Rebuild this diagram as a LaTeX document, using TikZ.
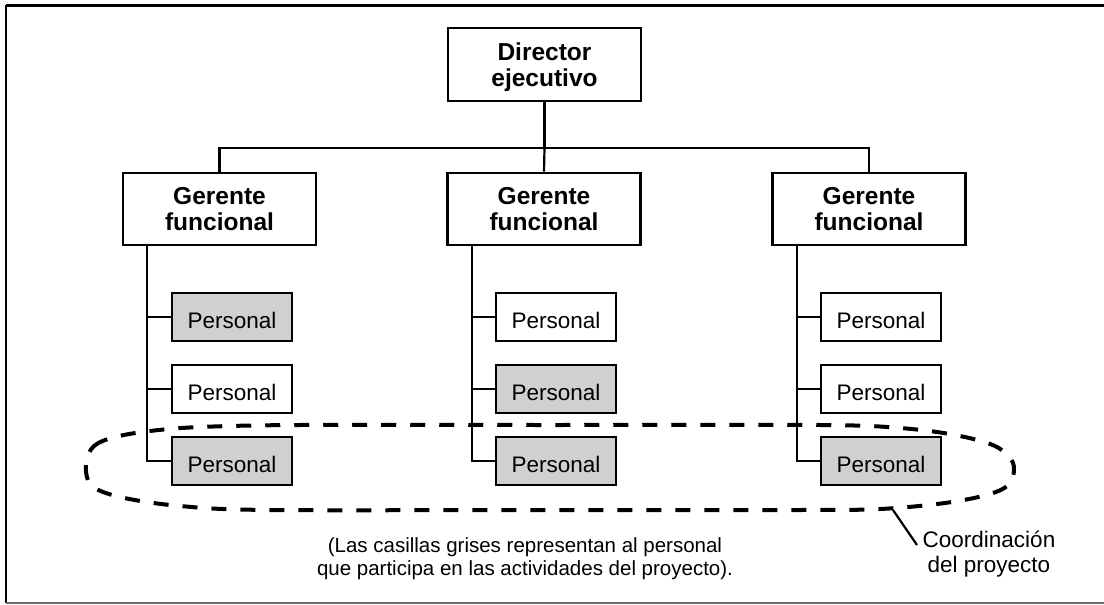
\documentclass[tikz,border=0pt]{standalone}
\usepackage{fontspec}
\setmainfont{Liberation Sans}
\definecolor{boxgray}{RGB}{208,208,208}
\definecolor{framegray}{RGB}{110,110,110}
\begin{document}
\begin{tikzpicture}[x=1pt,y=-1pt,
  box/.style={draw, line width=2.8pt, inner sep=0pt, align=center},
  mgr/.style={box, minimum width=193pt, minimum height=72pt, text depth=0pt,
    font=\fontsize{24.5}{26}\selectfont\bfseries},
  staff/.style={box, minimum width=120pt, minimum height=48pt, text height=22pt, text depth=0pt,
    font=\fontsize{22.5}{24}\selectfont},
  shaded/.style={fill=boxgray},
  link/.style={line width=2.2pt},
  coordline/.style={line width=4pt, dash pattern=on 15pt off 14pt}]
\useasboundingbox (0,0) rectangle (1104,605);
% frame
\draw[line width=3pt] (6,5) -- (1104,5);
\draw[line width=2pt] (6,5) -- (6,603);
\draw[line width=1.5pt, framegray] (6,603) -- (1104,603);

% nodes
\node[mgr, minimum height=73pt] (dir) at (544.5,64.5) {Director\\ejecutivo};
\node[mgr] (g1) at (219.5,209) {Gerente\\funcional};
\node[mgr] (g2) at (544,209) {Gerente\\funcional};
\node[mgr] (g3) at (869,209) {Gerente\\funcional};

\node[staff, shaded] (p11) at (232,317) {Personal};
\node[staff]         (p12) at (232,389) {Personal};
\node[staff, shaded] (p13) at (232,461) {Personal};
\node[staff]         (p21) at (556,317) {Personal};
\node[staff, shaded] (p22) at (556,389) {Personal};
\node[staff, shaded] (p23) at (556,461) {Personal};
\node[staff]         (p31) at (881,317) {Personal};
\node[staff]         (p32) at (881,389) {Personal};
\node[staff, shaded] (p33) at (881,461) {Personal};

% connectors
\coordinate (bus) at (544.5,148);
\draw[link] (dir.south) -- (bus);
\draw[link] (g1.north) |- (bus) -| (g3.north);
\draw[link] (bus) -- (g2.north);

\coordinate (v1) at (147,245);
\coordinate (v2) at (472,245);
\coordinate (v3) at (797,245);
\foreach \c in {1,2,3}{
  \draw[link] (v\c) |- (p\c3.west);
  \draw[link] (p\c1.west) -- (p\c1.west -| v\c);
  \draw[link] (p\c2.west) -- (p\c2.west -| v\c);
}

% project coordination outline
\draw[coordline] plot[smooth cycle, tension=0.55] coordinates {
  (86,463) (94,446) (115,437) (150,431) (200,427) (300,425) (550,425) (820,425)
  (900,428) (955,435) (995,446) (1013,463) (1010,483) (990,494) (945,503)
  (880,509) (800,510) (550,510) (270,510) (180,506) (120,497) (91,485)};

% labels
\node[font=\fontsize{20.5}{23}\selectfont, align=center, inner sep=0pt] (note) at (525,559)
  {(Las casillas grises representan al personal\\que participa en las actividades del proyecto).};
\node[font=\fontsize{22.5}{25}\selectfont, align=center, inner sep=0pt] (coord) at (989,554)
  {Coordinación\\del proyecto};
\coordinate (lead) at (893,510);
\coordinate (leadend) at (917,545);
\draw[link] (lead) -- (leadend);
\end{tikzpicture}
\end{document}
